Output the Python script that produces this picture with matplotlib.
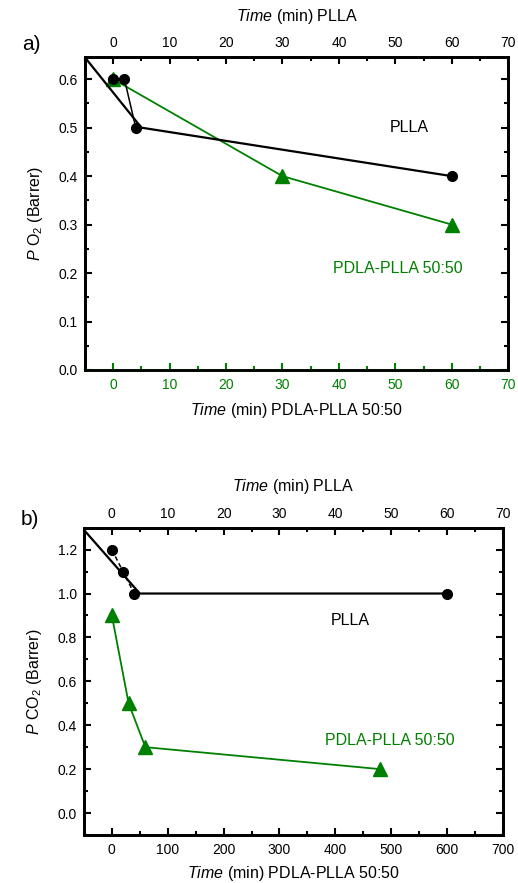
import matplotlib
matplotlib.use('Agg')
import matplotlib.pyplot as plt
from matplotlib.ticker import MultipleLocator

plt.rcParams['font.family'] = ['Liberation Sans', 'DejaVu Sans']
plt.rcParams['mathtext.fontset'] = 'custom'
plt.rcParams['mathtext.rm'] = 'Liberation Sans'
plt.rcParams['mathtext.it'] = 'Liberation Sans:italic'

GREEN = '#008000'

# ---- panel a) O2 permeability ----
o2_plla_t = [0, 2, 4, 60]
o2_plla_p = [0.6, 0.6, 0.5, 0.4]
o2_plla_guide_t = [-5, 5, 60]
o2_plla_guide_p = [0.645, 0.5, 0.4]
o2_blend_t = [0, 30, 60]
o2_blend_p = [0.6, 0.4, 0.3]

# ---- panel b) CO2 permeability ----
co2_plla_t = [0, 2, 4, 60]
co2_plla_p = [1.2, 1.1, 1.0, 1.0]
co2_plla_guide_t = [-5, 5, 60]
co2_plla_guide_p = [1.29, 1.0, 1.0]
co2_blend_t = [0, 30, 60, 480]
co2_blend_p = [0.9, 0.5, 0.3, 0.2]


def style_axis(ax, color_bottom='black'):
    for s in ax.spines.values():
        s.set_linewidth(2)
    ax.spines['bottom'].set_color(color_bottom)
    ax.tick_params(which='both', direction='in', labelsize=10, width=1.5)
    ax.tick_params(which='major', length=5)
    ax.tick_params(which='minor', length=3)
    ax.tick_params(axis='y', which='both', left=True, right=True, pad=5)
    ax.tick_params(axis='x', which='both', colors=color_bottom, pad=6)


def top_axis(ax):
    top = ax.twiny()
    top.set_xlim(-5, 70)
    top.xaxis.set_major_locator(MultipleLocator(10))
    top.xaxis.set_minor_locator(MultipleLocator(5))
    top.tick_params(which='both', direction='in', labelsize=10, width=1.5, pad=5)
    top.tick_params(which='major', length=5)
    top.tick_params(which='minor', length=3)
    for s in top.spines.values():
        s.set_linewidth(2)
    top.set_xlabel(r'$\it{Time}$ (min) PLLA', fontsize=11.5, labelpad=11)
    return top


fig = plt.figure(figsize=(5.18, 8.83), dpi=100)

# panel a
ax1 = fig.add_axes([0.164, 0.581, 0.817, 0.354])
ax1.set_xlim(-5, 70)
ax1.set_ylim(0, 0.645)
ax1.xaxis.set_major_locator(MultipleLocator(10))
ax1.xaxis.set_minor_locator(MultipleLocator(5))
ax1.yaxis.set_major_locator(MultipleLocator(0.1))
ax1.yaxis.set_minor_locator(MultipleLocator(0.05))
ax1.yaxis.set_major_formatter(plt.FormatStrFormatter('%.1f'))
style_axis(ax1, GREEN)
ax1.plot(o2_blend_t, o2_blend_p, color=GREEN, lw=1.3)
ax1.plot(o2_blend_t, o2_blend_p, ls='none', marker='^', ms=10, color=GREEN)
ax1.set_xlabel(r'$\it{Time}$ (min) PDLA-PLLA 50:50', fontsize=11.5, labelpad=6)
ax1.set_ylabel(r'$\it{P}$ O$_2$ (Barrer)', fontsize=11.5, labelpad=10)
t1 = top_axis(ax1)
t1.plot(o2_plla_guide_t, o2_plla_guide_p, color='black', lw=1.6)
t1.plot(o2_plla_t[1:3], o2_plla_p[1:3], color='black', lw=1.1)
t1.plot(o2_plla_t, o2_plla_p, ls='none', marker='o', ms=7, color='black')
t1.set_ylim(ax1.get_ylim())
ax1.text(52.5, 0.5, 'PLLA', fontsize=11.5, ha='center', va='center')
ax1.text(50.5, 0.21, 'PDLA-PLLA 50:50', fontsize=11.5, ha='center', va='center',
         color=GREEN)
fig.text(0.043, 0.95, 'a)', fontsize=15, ha='left', va='center')

# panel b
ax2 = fig.add_axes([0.162, 0.0544, 0.809, 0.348])
ax2.set_xlim(-50, 700)
ax2.set_ylim(-0.1, 1.3)
ax2.xaxis.set_major_locator(MultipleLocator(100))
ax2.xaxis.set_minor_locator(MultipleLocator(50))
ax2.yaxis.set_major_locator(MultipleLocator(0.2))
ax2.yaxis.set_minor_locator(MultipleLocator(0.1))
ax2.yaxis.set_major_formatter(plt.FormatStrFormatter('%.1f'))
style_axis(ax2, 'black')
ax2.plot(co2_blend_t, co2_blend_p, color=GREEN, lw=1.3)
ax2.plot(co2_blend_t, co2_blend_p, ls='none', marker='^', ms=10, color=GREEN)
ax2.set_xlabel(r'$\it{Time}$ (min) PDLA-PLLA 50:50', fontsize=11.5, labelpad=5)
ax2.set_ylabel(r'$\it{P}$ CO$_2$ (Barrer)', fontsize=11.5, labelpad=10)
t2 = top_axis(ax2)
t2.plot(co2_plla_guide_t, co2_plla_guide_p, color='black', lw=1.6)
t2.plot(co2_plla_t[:3], co2_plla_p[:3], color='black', lw=1.1, ls=(0, (3, 2)))
t2.plot(co2_plla_t, co2_plla_p, ls='none', marker='o', ms=7, color='black')
t2.set_ylim(ax2.get_ylim())
ax2.text(426, 0.877, 'PLLA', fontsize=11.5, ha='center', va='center')
ax2.text(497, 0.33, 'PDLA-PLLA 50:50', fontsize=11.5, ha='center', va='center',
         color=GREEN)
fig.text(0.039, 0.412, 'b)', fontsize=15, ha='left', va='center')

fig.savefig('out.png', dpi=100)
